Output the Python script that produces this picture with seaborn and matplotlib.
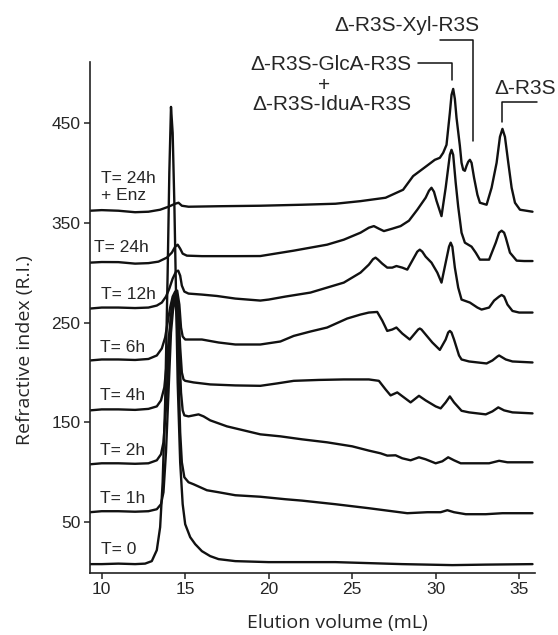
import pandas as pd
import matplotlib
matplotlib.use("Agg")
import matplotlib.pyplot as plt
import seaborn as sns

# chromatogram traces: elution volume (mL) and R.I. signal
t0_ml = [9.3, 10, 11, 12, 12.6, 13.0, 13.3, 13.5, 13.65, 13.8, 13.95, 14.05, 14.15, 14.25, 14.35, 14.45,
         14.55, 14.7, 14.85, 15.0, 15.3, 15.6, 16.0, 16.5, 17.0, 18.0, 20, 24, 28, 31, 33, 35.8]
t0_ri = [8, 8, 8.5, 8, 8.5, 11, 22, 45, 90, 170, 300, 400, 466, 440, 370, 280,
         190, 110, 68, 48, 35, 28, 21, 16, 13, 11, 10, 10, 8, 7, 7.5, 8]

t1_ml = [9.3, 10, 11, 12, 12.8, 13.3, 13.55, 13.7, 13.85, 14.0, 14.15, 14.3, 14.4, 14.5, 14.6, 14.7, 14.8,
         14.95, 15.2, 15.5, 15.9, 16.3, 17, 18, 19.5, 21, 22, 24, 26, 28.3, 29.5, 30.3, 30.7, 31.1, 31.8,
         33, 34, 35.8]
t1_ri = [60, 61, 61, 60.5, 61, 63, 68, 80, 120, 180, 240, 268, 272, 255, 200, 140, 110,
         95, 90, 88, 85, 82, 80, 77, 75.5, 73, 71.6, 68, 64, 59, 60, 60, 62, 60, 58,
         58, 59, 59]

t2_ml = [9.3, 10, 11, 12, 12.8, 13.3, 13.55, 13.7, 13.85, 14.0, 14.15, 14.3, 14.42, 14.55, 14.65, 14.75,
         14.85, 14.95, 15.2, 15.5, 15.8, 16.1, 16.5, 17.5, 18.5, 19.5, 20.7, 22, 23.5, 25, 26, 26.7, 27.1,
         27.6, 28.0, 28.5, 29.0, 29.4, 30.0, 30.4, 30.75, 31.1, 31.5, 32.5, 33.2, 33.8, 34.3, 35, 35.8]
t2_ri = [108, 109, 109, 108.5, 109, 112, 118, 130, 165, 215, 255, 272, 276, 262, 220, 180,
         162, 157, 156, 157, 158, 156, 152, 146, 142, 138, 136, 133, 130, 126, 121.7, 119, 116.7,
         117, 114, 112, 115, 113, 109, 111, 115, 112, 109, 109, 109, 111.5, 110, 110, 110]

t4_ml = [9.3, 10, 11, 12, 12.8, 13.3, 13.55, 13.75, 13.9, 14.05, 14.2, 14.35, 14.47, 14.6, 14.7, 14.8,
         14.9, 15.0, 15.5, 16.5, 18, 19.5, 20.5, 21.5, 23, 24.5, 26, 26.6, 27.0, 27.3, 27.7, 28.1, 28.5,
         29.0, 29.4, 30.0, 30.3, 30.6, 30.85, 31.1, 31.55, 32, 33, 33.4, 33.75, 34.1, 34.6, 35.8]
t4_ri = [162, 163, 163, 162.5, 163.5, 166, 172, 185, 210, 240, 265, 276, 278, 262, 225, 200,
         193, 191.6, 190, 188, 187, 186.6, 189, 191.6, 192.5, 193, 193, 191.6, 183, 177, 180, 175, 170,
         176.6, 172, 166, 164, 170, 176, 170, 161.6, 160, 158, 161, 165, 162, 160, 159]

t6_ml = [9.3, 10, 11, 12, 12.8, 13.3, 13.6, 13.8, 13.95, 14.1, 14.25, 14.4, 14.52, 14.65, 14.75, 14.85,
         15.0, 15.5, 16, 17, 18, 19.5, 20.7, 21.5, 22.5, 23.5, 24.7, 25.5, 26, 26.5, 26.8, 27.1, 27.4,
         27.65, 28.0, 28.45, 28.8, 28.95, 29.05, 29.15, 29.4, 29.8, 30.25, 30.6, 30.75, 30.85, 30.95, 31.1,
         31.4, 31.55, 32, 33.05, 33.4, 33.7, 33.8, 33.9, 34.2, 34.6, 35.8]
t6_ri = [212, 213, 213, 212.5, 213.5, 217, 224, 235, 250, 265, 276, 281, 282, 268, 245, 236,
         233, 233, 233, 230, 228, 228, 231, 236.6, 241, 245, 254, 258, 260, 260.6, 252, 241.6, 243,
         245, 239, 233, 240, 243, 244, 243, 238, 230, 222.6, 233, 240, 241.6, 240, 233,
         217, 213, 211, 209, 212, 216, 217, 216, 213, 211, 210]

t12_ml = [9.3, 10, 11, 12, 12.8, 13.3, 13.6, 13.85, 14.05, 14.25, 14.45, 14.58, 14.7, 14.8, 14.95, 15.2,
          16, 16.9, 18, 19.5, 20, 21, 22.5, 23.5, 24.5, 25.5, 26.0, 26.25, 26.4, 26.55, 26.8, 27.1, 27.4,
          27.65, 28.0, 28.3, 28.7, 28.9, 29.05, 29.2, 29.4, 29.75, 30.1, 30.35, 30.6, 30.8, 30.9, 31.0,
          31.15, 31.35, 31.55, 32.05, 32.5, 32.75, 33.2, 33.5, 33.8, 33.95, 34.1, 34.3, 34.6, 35.0, 35.8]
t12_ri = [264, 265, 265, 264.5, 265, 267, 270, 276, 284, 294, 301, 302, 297, 287, 281, 279,
          278, 276.6, 274, 272, 273, 276, 280, 285, 290, 300, 308, 313.5, 315, 313, 309, 305, 305,
          306.6, 305, 303, 315, 321, 323, 321, 316, 310, 300, 290, 310, 326, 330, 326,
          305, 285, 273, 270, 265, 263, 265, 272, 276, 277.6, 276, 268, 261.6, 260, 260]

t24_ml = [9.3, 10, 11, 12, 12.8, 13.4, 13.9, 14.2, 14.4, 14.55, 14.7, 14.85, 15.1, 16, 18, 19.5, 21.5,
          23.5, 24.5, 25.5, 26.0, 26.3, 26.6, 26.9, 27.4, 27.9, 28.4, 28.9, 29.4, 29.6, 29.75, 29.9, 30.05,
          30.35, 30.6, 30.85, 30.95, 31.05, 31.2, 31.35, 31.55, 31.75, 32.15, 32.4, 32.65, 33.2, 33.6,
          33.8, 33.95, 34.1, 34.2, 34.45, 34.85, 35.3, 35.8]
t24_ri = [310, 310.6, 310.5, 309, 309.5, 311, 315, 320, 326, 328, 324, 319, 317, 316.5, 316.5, 316.6, 322,
          328, 333, 340, 345, 346.6, 344, 341.6, 344, 346.6, 352, 363, 375, 382, 385, 381, 372,
          356.6, 385, 418, 423, 418, 390, 366, 340, 330, 326, 320, 313, 313, 330,
          340, 342, 340, 335, 320, 312, 311.6, 311.6]

tenz_ml = [9.3, 10, 11, 12, 12.8, 13.5, 14.0, 14.4, 14.6, 14.8, 15.2, 17, 19.5, 22, 24, 25.5, 27, 28.05,
           28.65, 29.45, 29.95, 30.25, 30.45, 30.65, 30.85, 30.95, 31.05, 31.15, 31.25, 31.45, 31.55, 31.65,
           31.75, 31.85, 31.95, 32.05, 32.15, 32.3, 32.5, 32.65, 33.05, 33.35, 33.65, 33.85, 34.0, 34.15,
           34.35, 34.55, 34.75, 35.05, 35.8]
tenz_ri = [362, 362.6, 362, 360.5, 361, 363, 366, 369, 370, 367, 366, 366.5, 367, 368, 369, 371.6, 375, 383,
           396.7, 406.7, 413, 415, 420, 428, 460, 478, 484, 474, 455, 427, 410, 403,
           402, 407, 411, 413, 410, 395, 378, 370, 368, 385, 410, 436, 444, 436,
           410, 385, 370, 363, 361]

trace_names = ['T= 0', 'T= 1h', 'T= 2h', 'T= 4h', 'T= 6h', 'T= 12h', 'T= 24h', 'T= 24h\n+ Enz']
trace_ml = [t0_ml, t1_ml, t2_ml, t4_ml, t6_ml, t12_ml, t24_ml, tenz_ml]
trace_ri = [t0_ri, t1_ri, t2_ri, t4_ri, t6_ri, t12_ri, t24_ri, tenz_ri]
# where each trace name sits (left edge mL, R.I. level)
name_ml = [9.94, 9.9, 9.9, 9.9, 9.9, 9.94, 9.56, 9.94]
name_ri = [23, 74, 122, 176.6, 225, 278, 325, 386]

frames = []
for name, xs, ys in zip(trace_names, trace_ml, trace_ri):
    frames.append(pd.DataFrame({'ml': xs, 'ri': ys, 'trace': name}))
data = pd.concat(frames, ignore_index=True)

sns.set_style("ticks")
plt.rcParams['font.family'] = ['Liberation Sans', 'DejaVu Sans']

fig = plt.figure(figsize=(5.58, 6.35), dpi=100)
ax = fig.add_axes([0.1613, 0.0981, 0.7975, 0.8043])

sns.lineplot(data=data, x='ml', y='ri', units='trace', estimator=None, sort=False,
             color='#111111', linewidth=1.7, ax=ax, legend=False)

for name, x, y in zip(trace_names, name_ml, name_ri):
    ax.text(x, y, name, ha='left', va='center', fontsize=12.5, linespacing=1.15)

# peak annotations
lc = '#111111'
ax.text(28.28, 548, 'Δ-R3S-Xyl-R3S', ha='center', va='center', fontsize=15, clip_on=False)
ax.plot([30.26, 32.25, 32.25], [533, 533, 431.6], color=lc, lw=1.1, clip_on=False)
ax.text(23.72, 508, 'Δ-R3S-GlcA-R3S', ha='center', va='center', fontsize=15, clip_on=False)
ax.text(23.3, 487, '+', ha='center', va='center', fontsize=15)
ax.text(23.77, 468, 'Δ-R3S-IduA-R3S', ha='center', va='center', fontsize=15)
ax.plot([28.95, 31.0, 31.0], [510, 510, 493.3], color=lc, lw=1.1, clip_on=False)
ax.text(35.35, 484, 'Δ-R3S', ha='center', va='center', fontsize=15, clip_on=False)
ax.plot([36.05, 33.95, 33.95], [470.6, 470.6, 450.6], color=lc, lw=1.1, clip_on=False)

ax.set_xlim(9.3, 35.95)
ax.set_ylim(-0.6, 511)
ax.set_xticks([10, 15, 20, 25, 30, 35])
ax.set_yticks([50, 150, 250, 350, 450])
ax.tick_params(labelsize=12.5, length=4, width=1.1, color='#222222', pad=3)
for side in ['top', 'right']:
    ax.spines[side].set_visible(False)
for side in ['left', 'bottom']:
    ax.spines[side].set_linewidth(1.2)
    ax.spines[side].set_color('#222222')

ax.set_xlabel('Elution volume (mL)', fontsize=14, family='Open Sans')
ax.set_ylabel('Refractive index (R.I.)', fontsize=14, family='Open Sans')
ax.xaxis.set_label_coords(0.555, -0.08)
ax.yaxis.set_label_coords(-0.125, 0.435)

fig.savefig('out.png', dpi=100)
